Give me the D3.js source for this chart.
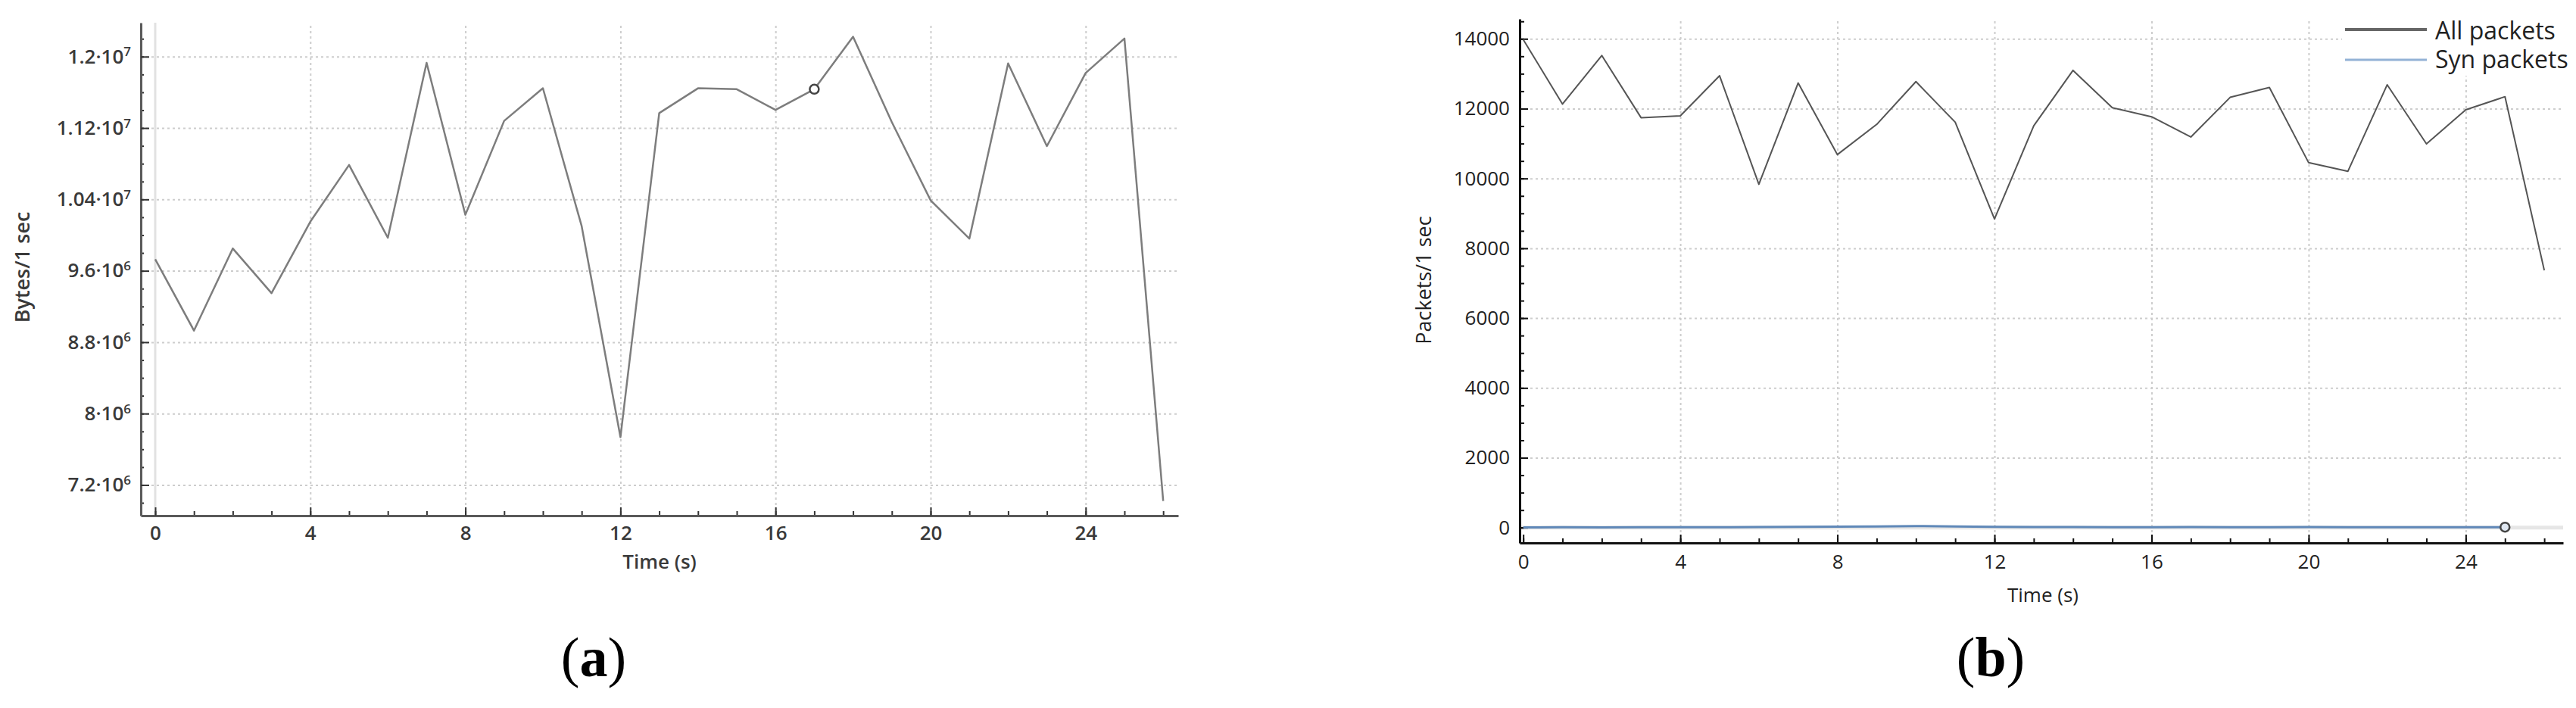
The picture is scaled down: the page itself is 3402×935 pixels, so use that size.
<!DOCTYPE html>
<html lang="en">
<head>
<meta charset="utf-8">
<title>Bytes and packets per second</title>
<style>
  body { margin: 0; background: #fff; }
  text { font-family: "Open Sans", sans-serif; }
  .grid line { stroke: #cdcdcd; stroke-width: 2; stroke-dasharray: 3,4; }
  .grid .domain { display: none; }
  .grid text { display: none; }
  .minor .domain { display: none; }
  .minor text { display: none; }
  .label { font-family: "Liberation Serif", serif; font-size: 74px; fill: #000; }
</style>
</head>
<body>
<script src="https://cdn.jsdelivr.net/npm/d3@7"></script>
<script>

// time in seconds
var time = [0, 1, 2, 3, 4, 5, 6, 7, 8, 9, 10, 11, 12, 13, 14, 15, 16, 17, 18, 19, 20, 21, 22, 23, 24, 25, 26];

// (a) bytes per second
var bytes = [9.73e6, 8.93e6, 9.85e6, 9.35e6, 1.015e7, 1.0786e7, 9.97e6, 1.193e7, 1.0228e7,
             1.128e7, 1.1646e7, 1.01e7, 7.736e6, 1.1367e7, 1.1645e7, 1.1635e7, 1.1403e7,
             1.1635e7, 1.2223e7, 1.1266e7, 1.039e7, 9.96e6, 1.1924e7, 1.0997e7, 1.1817e7,
             1.2203e7, 7.02e6];

// (b) packets per second
var allPackets = [13980, 12130, 13523, 11742, 11794, 12942, 9832, 12735, 10684, 11548, 12774,
                  11613, 8839, 11510, 13097, 12026, 11768, 11187, 12323, 12606, 10452, 10206,
                  12684, 10991, 11967, 12343, 7368];
var synTime = [0, 1, 2, 3, 4, 5, 6, 7, 8, 9, 10, 11, 12, 13, 14, 15, 16, 17, 18, 19, 20, 21, 22, 23, 24, 25];
var synPackets = [5, 8, 6, 10, 12, 8, 15, 20, 25, 30, 45, 30, 20, 15, 18, 12, 10, 14, 12, 10, 15, 12, 10, 8, 10, 12];

// tick labels
var xTicks = [0, 4, 8, 12, 16, 20, 24];
var yTicksA = [7.2e6, 8e6, 8.8e6, 9.6e6, 1.04e7, 1.12e7, 1.2e7];
var yTicksB = [0, 2000, 4000, 6000, 8000, 10000, 12000, 14000];
var legendNames = ["All packets", "Syn packets"];

var svg = d3.select("body").append("svg")
    .attr("width", 3402)
    .attr("height", 935);

function panel(o) {
  var x = d3.scaleLinear().domain(o.xDomain).range([o.left, o.right]);
  var y = d3.scaleLinear().domain(o.yDomain).range([o.bottom, o.top]);
  var w = o.right - o.left, h = o.bottom - o.top;
  var g = svg.append("g");

  //dotted grid
  g.append("g").attr("class", "grid")
      .attr("transform", "translate(0," + o.bottom + ")")
      .call(d3.axisBottom(x).tickValues(xTicks.slice(1)).tickSize(-h).tickFormat(""));
  g.append("g").attr("class", "grid")
      .attr("transform", "translate(" + o.left + ",0)")
      .call(d3.axisLeft(y).tickValues(o.yTicks.filter(function(v) { return v !== 0; }))
        .tickSize(-w).tickFormat(""));

  //zero line
  if (o.zeroX) {
    g.append("line")
        .attr("x1", x(0)).attr("x2", x(0))
        .attr("y1", o.top).attr("y2", o.bottom)
        .attr("stroke", "#e2e2e2").attr("stroke-width", 3);
  }
  if (o.zeroY) {
    g.append("line")
        .attr("x1", o.left).attr("x2", o.right)
        .attr("y1", y(0)).attr("y2", y(0))
        .attr("stroke", "#e6e6e6").attr("stroke-width", 5);
  }

  //minor ticks
  g.append("g").attr("class", "minor")
      .attr("transform", "translate(0," + o.bottom + ")")
      .call(d3.axisBottom(x).tickValues(time).tickSize(-6).tickFormat(""));
  g.append("g").attr("class", "minor")
      .attr("transform", "translate(" + o.left + ",0)")
      .call(d3.axisLeft(y).tickValues(o.yMinor).tickSize(-o.minorLen).tickFormat(""));

  //main axes
  var xa = g.append("g")
      .attr("transform", "translate(0," + o.bottom + ")")
      .call(d3.axisBottom(x).tickValues(xTicks).tickSize(-11).tickSizeOuter(0).tickPadding(o.xPad));
  var ya = g.append("g")
      .attr("transform", "translate(" + o.left + ",0)")
      .call(d3.axisLeft(y).tickValues(o.yTicks).tickSize(-11).tickSizeOuter(0)
        .tickPadding(13).tickFormat(o.yFormat || d3.format("d")));

  g.selectAll(".minor line").attr("stroke", o.tickColor).attr("stroke-width", 2);
  [xa, ya].forEach(function(a) {
    a.select(".domain").attr("stroke", o.axisColor).attr("stroke-width", 3);
    a.selectAll(".tick line").attr("stroke", o.tickColor).attr("stroke-width", 2);
    a.selectAll("text")
        .attr("font-family", "Open Sans, sans-serif")
        .attr("font-size", 26)
        .attr("font-weight", o.weight)
        .attr("fill", o.textColor);
  });

  //axis titles
  g.append("text")
      .attr("x", o.xTitle[0]).attr("y", o.xTitle[1])
      .attr("text-anchor", "middle")
      .attr("font-size", 26).attr("font-weight", o.weight)
      .attr("fill", o.textColor)
      .text("Time (s)");
  g.append("text")
      .attr("transform", "translate(" + o.yTitle[0] + "," + o.yTitle[1] + ") rotate(-90)")
      .attr("text-anchor", "middle")
      .attr("dy", "0.35em")
      .attr("font-size", 27).attr("font-weight", o.weight)
      .attr("fill", o.textColor)
      .text(o.yLabel);

  //panel letter
  var lab = g.append("text").attr("class", "label")
      .attr("x", o.letterX).attr("y", 893)
      .attr("text-anchor", "middle");
  lab.append("tspan").text("(");
  lab.append("tspan").attr("font-weight", "bold").text(o.letter);
  lab.append("tspan").text(")");

  return {g: g, x: x, y: y, yAxis: ya};
}

// (a) bytes
var pa = panel({
  left: 186, right: 1556, top: 30, bottom: 681,
  xDomain: [-0.371, 26.387], yDomain: [6.856e6, 1.238e7],
  yTicks: yTicksA, yMinor: d3.range(7.0e6, 1.238e7, 2e5),
  minorLen: 4, xPad: 14, zeroX: true, zeroY: false,
  axisColor: "#5a5a5a", tickColor: "#333", textColor: "#3a3a3a", weight: 600,
  yFormat: function(d) { return d; },
  xTitle: [871, 751], yTitle: [30, 353], yLabel: "Bytes/1 sec",
  letter: "a", letterX: 784
});

//write 1.2·10^7 style labels
pa.yAxis.selectAll(".tick text")
  .each(function(d) {
    var e = Math.floor(Math.log10(d));
    var m = +(d / Math.pow(10, e)).toFixed(2);
    var t = d3.select(this).text("");
    t.append("tspan").text(m + "\u00b710");
    t.append("tspan").attr("font-size", 17).attr("dy", "-0.55em").text(e);
  });

var line = d3.line()
    .x(function(d) { return pa.x(d[0]); })
    .y(function(d) { return pa.y(d[1]); });

pa.g.append("path")
    .datum(d3.zip(time, bytes))
    .attr("fill", "none")
    .attr("stroke", "#7d7d7d")
    .attr("stroke-width", 2.5)
    .attr("stroke-linejoin", "round")
    .attr("d", line);

pa.g.append("circle")
    .attr("cx", pa.x(time[17])).attr("cy", pa.y(bytes[17]))
    .attr("r", 6)
    .attr("fill", "#fff").attr("stroke", "#444").attr("stroke-width", 2.5);

// (b) packets
var pb = panel({
  left: 2007, right: 3385, top: 25, bottom: 717,
  xDomain: [-0.09, 26.48], yDomain: [-440, 14570],
  yTicks: yTicksB, yMinor: d3.range(0, 14600, 500),
  minorLen: 6, xPad: 16, zeroX: false, zeroY: true,
  axisColor: "#111", tickColor: "#111", textColor: "#222", weight: 400,
  xTitle: [2698, 795], yTitle: [1881, 370], yLabel: "Packets/1 sec",
  letter: "b", letterX: 2629
});

var lineB = d3.line()
    .x(function(d) { return pb.x(d[0]); })
    .y(function(d) { return pb.y(d[1]); });

pb.g.append("path")
    .datum(d3.zip(synTime, synPackets))
    .attr("fill", "none")
    .attr("stroke", "#5f88b8")
    .attr("stroke-width", 3)
    .attr("d", lineB);

pb.g.append("path")
    .datum(d3.zip(time, allPackets))
    .attr("fill", "none")
    .attr("stroke", "#555")
    .attr("stroke-width", 2)
    .attr("stroke-linejoin", "round")
    .attr("d", lineB);

pb.g.append("circle")
    .attr("cx", pb.x(synTime[25])).attr("cy", pb.y(synPackets[25]))
    .attr("r", 6)
    .attr("fill", "#dfe7f1").attr("stroke", "#444").attr("stroke-width", 2.5);

//legend
var legend = pb.g.append("g");
legend.append("rect")
    .attr("x", 3093).attr("y", 15).attr("width", 297).attr("height", 85)
    .attr("fill", "#fff");
var legendColors = ["#666", "#93b2d6"];
var legendWidths = [4, 3];
legendNames.forEach(function(name, i) {
  legend.append("line")
      .attr("x1", 3097).attr("x2", 3205)
      .attr("y1", 39 + i * 40).attr("y2", 39 + i * 40)
      .attr("stroke", legendColors[i]).attr("stroke-width", legendWidths[i]);
  legend.append("text")
      .attr("x", 3216).attr("y", 52 + i * 38)
      .attr("font-size", 32)
      .attr("fill", "#222")
      .text(name);
});

</script>
</body>
</html>
